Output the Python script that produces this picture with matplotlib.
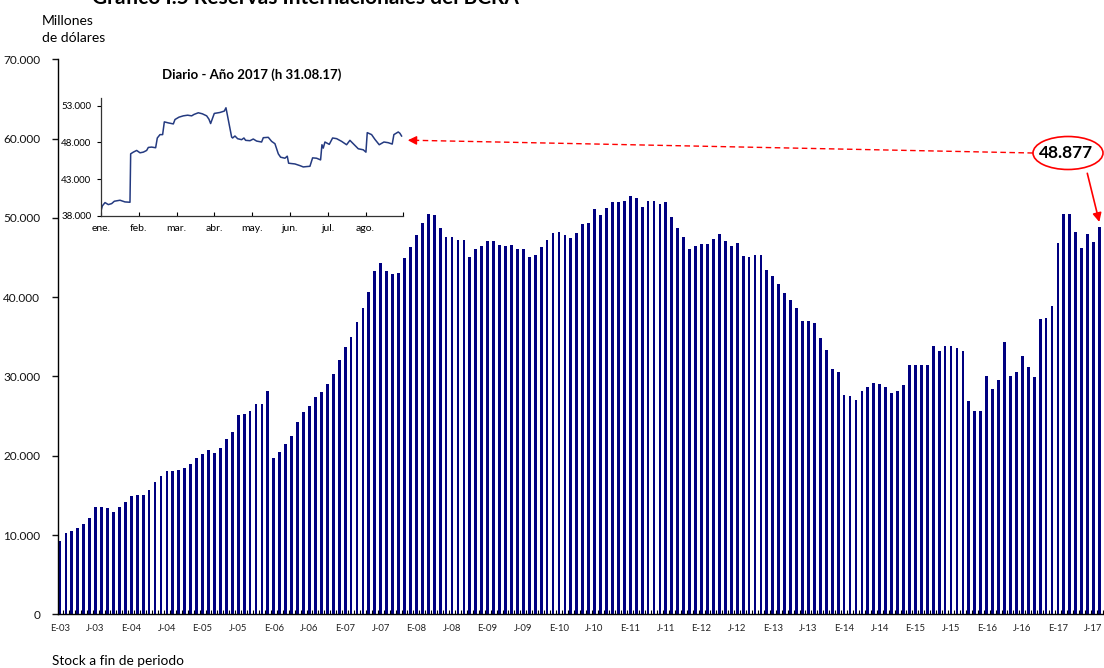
import matplotlib
matplotlib.use("Agg")
import matplotlib.pyplot as plt
from matplotlib.patches import Ellipse, FancyArrowPatch
from matplotlib.lines import Line2D
from matplotlib.transforms import IdentityTransform
from matplotlib.ticker import FuncFormatter, FixedLocator

plt.rcParams['font.family'] = ['Lato', 'DejaVu Sans']

# ==========================
# Reservas mensuales (millones de USD), ene-03 a ago-17
# ==========================
res_2003 = [9297, 10223, 10518, 10938, 11401, 12158, 13504, 13504, 13378, 12915, 13504, 14136]
res_2004 = [14893, 15019, 15019, 15734, 16702, 17459, 18048, 18048, 18174, 18469, 18932, 19689]
res_2005 = [20152, 20741, 20278, 20909, 22087, 23012, 25158, 25242, 25579, 26504, 26504, 28187]
res_2006 = [19689, 20446, 21498, 22423, 24232, 25452, 26210, 27388, 28061, 29071, 30290, 32099]
res_2007 = [33740, 35002, 36895, 38578, 40682, 43290, 44300, 43290, 42953, 43079, 44931, 46319]
res_2008 = [47791, 49306, 50526, 50358, 48675, 47623, 47623, 47160, 47160, 45057, 46109, 46445]
res_2009 = [47034, 47034, 46571, 46445, 46571, 46109, 46109, 45057, 45352, 46319, 47202, 48086]
res_2010 = [48212, 47791, 47497, 48086, 49180, 49306, 51115, 50358, 51241, 51998, 51998, 52167]
res_2011 = [52756, 52461, 51409, 52167, 52167, 51704, 51998, 50063, 48675, 47623, 46109, 46445]
res_2012 = [46740, 46740, 47329, 47960, 47034, 46445, 46866, 45225, 45057, 45352, 45352, 43416]
res_2013 = [42659, 41607, 40555, 39630, 38578, 37021, 37021, 36727, 34792, 33319, 30879, 30585]
res_2014 = [27682, 27556, 26967, 28145, 28608, 29197, 29071, 28633, 27855, 28115, 28893, 31445]
res_2015 = [31445, 31445, 31445, 33867, 33261, 33867, 33867, 33564, 33261, 26946, 25606, 25606]
res_2016 = [30104, 28460, 29542, 34299, 30104, 30536, 32526, 31185, 29974, 37197, 37327, 38841]
res_2017 = [46799, 50519, 50519, 48183, 46194, 48010, 46972, 48877]

reservas = (res_2003 + res_2004 + res_2005 + res_2006 + res_2007 + res_2008 + res_2009
            + res_2010 + res_2011 + res_2012 + res_2013 + res_2014 + res_2015 + res_2016
            + res_2017)

years = ["03", "04", "05", "06", "07", "08", "09", "10", "11", "12", "13", "14", "15", "16", "17"]
tick_labels = [p + "-" + y for y in years for p in ("E", "J")]

# ==========================
# Serie diaria 2017 (posicion en meses desde 1-ene, valor)
# ==========================
daily_pos = [0.000, 0.035, 0.106, 0.194, 0.282, 0.353, 0.503, 0.635, 0.767, 0.785,
             0.855, 0.944, 1.032, 1.120, 1.208, 1.252, 1.340, 1.446, 1.490, 1.561,
             1.631, 1.676, 1.781, 1.914, 1.958, 2.063, 2.178, 2.293, 2.399, 2.460,
             2.575, 2.681, 2.796, 2.857, 2.901, 2.998, 3.148, 3.263, 3.307, 3.457,
             3.483, 3.545, 3.616, 3.721, 3.783, 3.827, 3.942, 4.030, 4.118, 4.250,
             4.295, 4.427, 4.515, 4.603, 4.692, 4.753, 4.868, 4.929, 4.965, 5.044,
             5.132, 5.265, 5.353, 5.441, 5.529, 5.600, 5.705, 5.811, 5.847, 5.882,
             5.926, 6.041, 6.129, 6.235, 6.367, 6.499, 6.587, 6.675, 6.808, 6.940,
             7.011, 7.046, 7.161, 7.249, 7.363, 7.487, 7.601, 7.707, 7.751, 7.866,
             7.910, 7.954]
daily_val = [38642, 39330, 39789, 39514, 39650, 39972, 40110, 39880, 39835, 46440,
             46670, 46900, 46580, 46670, 46900, 47310, 47360, 47270, 48600, 49060,
             49060, 50800, 50660, 50520, 51120, 51440, 51620, 51710, 51620, 51810,
             52040, 51900, 51620, 51160, 50570, 51950, 52080, 52270, 52720, 48730,
             48600, 48870, 48500, 48370, 48600, 48280, 48230, 48460, 48180, 48050,
             48640, 48690, 48140, 47820, 46440, 45980, 45840, 46120, 45160, 45110,
             45060, 44830, 44650, 44700, 44740, 45890, 45840, 45610, 47680, 47220,
             48050, 47730, 48600, 48510, 48140, 47680, 48280, 47820, 47130, 46990,
             46670, 49330, 49060, 48410, 47680, 48050, 47960, 47770, 49060, 49420,
             49240, 48870]
month_labels = ["ene.", "feb.", "mar.", "abr.", "may.", "jun.", "jul.", "ago."]

BAR_COLOR = "#000080"
LINE_COLOR = "#243a80"
RED = "#ff0000"

W, H = 1104, 668
fig = plt.figure(figsize=(W / 100, H / 100), dpi=100)


def fx(px):
    return px / W


def fy(py):
    return (H - py) / H


def dots(v, pos=None):
    return f"{v:,.0f}".replace(",", ".")


# ==========================
# Grafico principal
# ==========================
ax = fig.add_axes([fx(58.2), fy(614.3), fx(1102.5) - fx(58.2), fy(59.2) - fy(614.3)])
idx = list(range(len(reservas)))
ax.bar(idx, reservas, width=0.47, color=BAR_COLOR, linewidth=0)
ax.set_xlim(-0.3, 175.5)
ax.set_ylim(0, 70000)
ax.set_yticks(range(0, 70001, 10000))
ax.yaxis.set_major_formatter(FuncFormatter(dots))
ax.set_xticks(range(0, 176, 6))
ax.set_xticklabels(tick_labels)
ax.xaxis.set_minor_locator(FixedLocator([i + 0.5 for i in range(-1, 176)]))
ax.tick_params(axis="x", which="major", length=0, pad=7, labelsize=6.8, colors="#222222")
ax.tick_params(axis="x", which="minor", direction="in", length=3, width=0.8)
ax.tick_params(axis="y", which="major", direction="out", length=4, width=1, pad=9,
               labelsize=8.5, colors="#111111")
for s in ("top", "right"):
    ax.spines[s].set_visible(False)
for s in ("left", "bottom"):
    ax.spines[s].set_linewidth(1)

fig.text(fx(92), fy(4), "Gráfico I.5 Reservas Internacionales del BCRA",
         fontsize=15, fontweight="bold", ha="left", va="baseline")
fig.text(fx(42), fy(21), "Millones", fontsize=10, ha="left", va="center")
fig.text(fx(42), fy(38), "de dólares", fontsize=10, ha="left", va="center")
fig.text(fx(52), fy(661), "Stock a fin de periodo", fontsize=9.8, ha="left", va="center")

# ==========================
# Recuadro diario 2017
# ==========================
axi = fig.add_axes([fx(101), fy(215.7), fx(403.3) - fx(101), fy(98.4) - fy(215.7)])
axi.plot(daily_pos, daily_val, color=LINE_COLOR, linewidth=1.1)
axi.set_xlim(0, 8)
axi.set_ylim(38000, 54000)
axi.set_yticks([38000, 43000, 48000, 53000])
axi.yaxis.set_major_formatter(FuncFormatter(dots))
axi.set_xticks(range(0, 9))
axi.set_xticklabels(month_labels + [""])
axi.tick_params(axis="x", direction="in", length=3, width=0.8, pad=6, labelsize=7.5)
axi.tick_params(axis="y", direction="out", length=3, width=0.8, pad=4, labelsize=7)
for s in ("top", "right"):
    axi.spines[s].set_visible(False)
for s in ("left", "bottom"):
    axi.spines[s].set_linewidth(0.9)
    axi.spines[s].set_color("#333333")
fig.text(fx(252), fy(75), "Diario - Año 2017 (h 31.08.17)", fontsize=9.5,
         fontweight="bold", ha="center", va="center")

# ==========================
# Anotacion del ultimo dato
# ==========================
ident = IdentityTransform()
fig.add_artist(Ellipse((1068, H - 153), 70, 33, transform=ident, facecolor="white",
                       edgecolor=RED, linewidth=1.2))
fig.text(fx(1066), fy(153), dots(reservas[-1]), fontsize=12.5, fontweight="bold",
         ha="center", va="center")
fig.add_artist(Line2D([fx(1033), fx(414)], [fy(153), fy(140.3)], color=RED,
                      linewidth=1, linestyle=(0, (4, 2.5)), transform=fig.transFigure))
fig.add_artist(FancyArrowPatch((416, H - 140.4), (405, H - 140.2), transform=ident,
                               arrowstyle="-|>", mutation_scale=13, color=RED,
                               linewidth=1))
fig.add_artist(FancyArrowPatch((1087.3, H - 173.3), (1099.3, H - 222), transform=ident,
                               arrowstyle="-|>", mutation_scale=13, color=RED,
                               linewidth=1.2, shrinkA=0, shrinkB=0))

fig.savefig("out.png", dpi=100)
